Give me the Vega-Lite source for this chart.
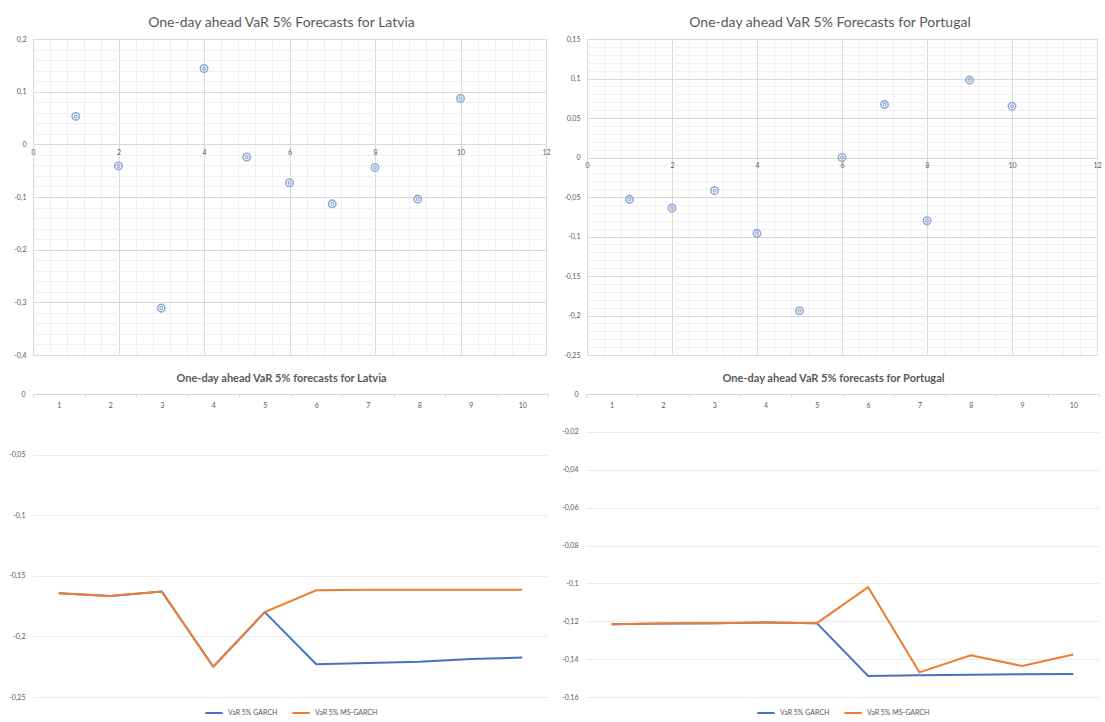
{
  "$schema": "https://vega.github.io/schema/vega-lite/v6.json",
  "background": "white",
  "padding": {"top": 15, "left": 0, "right": 0, "bottom": 0},
  "config": {
    "font": "Lato",
    "view": {"stroke": null},
    "axis": {"labelFont": "Lato", "labelColor": "#595959", "labelFontSize": 7, "title": null},
    "legend": {"labelFont": "Lato", "layout": {"bottom": {"anchor": "middle"}}}
  },
  "datasets": {
    "latviaPts": [
      {"day": 1, "value": 0.053}, {"day": 2, "value": -0.041}, {"day": 3, "value": -0.311},
      {"day": 4, "value": 0.144}, {"day": 5, "value": -0.024}, {"day": 6, "value": -0.073},
      {"day": 7, "value": -0.113}, {"day": 8, "value": -0.044}, {"day": 9, "value": -0.104},
      {"day": 10, "value": 0.087}
    ],
    "portugalPts": [
      {"day": 1, "value": -0.053}, {"day": 2, "value": -0.064}, {"day": 3, "value": -0.042},
      {"day": 4, "value": -0.096}, {"day": 5, "value": -0.194}, {"day": 6, "value": 0.0},
      {"day": 7, "value": 0.067}, {"day": 8, "value": -0.08}, {"day": 9, "value": 0.098},
      {"day": 10, "value": 0.065}
    ],
    "latviaVaR": [
      {"day": 1, "series": "VaR 5% GARCH", "value": -0.1644},
      {"day": 2, "series": "VaR 5% GARCH", "value": -0.1666},
      {"day": 3, "series": "VaR 5% GARCH", "value": -0.163},
      {"day": 4, "series": "VaR 5% GARCH", "value": -0.225},
      {"day": 5, "series": "VaR 5% GARCH", "value": -0.18},
      {"day": 6, "series": "VaR 5% GARCH", "value": -0.223},
      {"day": 7, "series": "VaR 5% GARCH", "value": -0.222},
      {"day": 8, "series": "VaR 5% GARCH", "value": -0.221},
      {"day": 9, "series": "VaR 5% GARCH", "value": -0.2186},
      {"day": 10, "series": "VaR 5% GARCH", "value": -0.2175},
      {"day": 1, "series": "VaR 5% MS-GARCH", "value": -0.1644},
      {"day": 2, "series": "VaR 5% MS-GARCH", "value": -0.1666},
      {"day": 3, "series": "VaR 5% MS-GARCH", "value": -0.163},
      {"day": 4, "series": "VaR 5% MS-GARCH", "value": -0.225},
      {"day": 5, "series": "VaR 5% MS-GARCH", "value": -0.18},
      {"day": 6, "series": "VaR 5% MS-GARCH", "value": -0.162},
      {"day": 7, "series": "VaR 5% MS-GARCH", "value": -0.1616},
      {"day": 8, "series": "VaR 5% MS-GARCH", "value": -0.1616},
      {"day": 9, "series": "VaR 5% MS-GARCH", "value": -0.1616},
      {"day": 10, "series": "VaR 5% MS-GARCH", "value": -0.1616}
    ],
    "portugalVaR": [
      {"day": 1, "series": "VaR 5% GARCH", "value": -0.1216},
      {"day": 2, "series": "VaR 5% GARCH", "value": -0.1212},
      {"day": 3, "series": "VaR 5% GARCH", "value": -0.121},
      {"day": 4, "series": "VaR 5% GARCH", "value": -0.1207},
      {"day": 5, "series": "VaR 5% GARCH", "value": -0.121},
      {"day": 6, "series": "VaR 5% GARCH", "value": -0.1489},
      {"day": 7, "series": "VaR 5% GARCH", "value": -0.1485},
      {"day": 8, "series": "VaR 5% GARCH", "value": -0.1482},
      {"day": 9, "series": "VaR 5% GARCH", "value": -0.148},
      {"day": 10, "series": "VaR 5% GARCH", "value": -0.1478},
      {"day": 1, "series": "VaR 5% MS-GARCH", "value": -0.1216},
      {"day": 2, "series": "VaR 5% MS-GARCH", "value": -0.1212},
      {"day": 3, "series": "VaR 5% MS-GARCH", "value": -0.121},
      {"day": 4, "series": "VaR 5% MS-GARCH", "value": -0.1207},
      {"day": 5, "series": "VaR 5% MS-GARCH", "value": -0.121},
      {"day": 6, "series": "VaR 5% MS-GARCH", "value": -0.102},
      {"day": 7, "series": "VaR 5% MS-GARCH", "value": -0.147},
      {"day": 8, "series": "VaR 5% MS-GARCH", "value": -0.138},
      {"day": 9, "series": "VaR 5% MS-GARCH", "value": -0.1436},
      {"day": 10, "series": "VaR 5% MS-GARCH", "value": -0.1376}
    ]
  },
  "columns": 2,
  "align": "none",
  "spacing": {"row": 14, "column": 6},
  "resolve": {"scale": {"color": "independent"}, "legend": {"color": "independent"}},
  "concat": [
    {
      "title": {"text": "One-day ahead VaR 5% Forecasts for Latvia", "fontSize": 14, "fontWeight": "normal", "color": "#595959", "offset": 5, "dx": -8},
      "width": 513,
      "height": 316,
      "view": {"stroke": "#d9d9d9"},
      "data": {"name": "latviaPts"},
      "encoding": {
        "x": {"field": "day", "type": "quantitative",
          "scale": {"domain": [0, 12], "nice": false, "zero": false},
          "axis": {"orient": "bottom", "offset": -210.67, "domain": false, "ticks": false, "grid": true,
            "values": [0,0.4,0.8,1.2,1.6,2,2.4,2.8,3.2,3.6,4,4.4,4.8,5.2,5.6,6,6.4,6.8,7.2,7.6,8,8.4,8.8,9.2,9.6,10,10.4,10.8,11.2,11.6,12],
            "gridColor": {"condition": {"test": "abs(datum.value/2 - round(datum.value/2)) < 1e-6", "value": "#d9d9d9"}, "value": "#f0f0f0"},
            "labelExpr": "abs(datum.value/2 - round(datum.value/2)) < 1e-6 ? toString(datum.value) : ''",
            "labelOverlap": false, "labelFlush": false, "labelPadding": 4}},
        "y": {"field": "value", "type": "quantitative",
          "scale": {"domain": [-0.4, 0.2], "nice": false, "zero": false},
          "axis": {"domain": false, "ticks": false, "grid": true,
            "values": [-0.4,-0.38,-0.36,-0.34,-0.32,-0.3,-0.28,-0.26,-0.24,-0.22,-0.2,-0.18,-0.16,-0.14,-0.12,-0.1,-0.08,-0.06,-0.04,-0.02,0,0.02,0.04,0.06,0.08,0.1,0.12,0.14,0.16,0.18,0.2],
            "gridColor": {"condition": {"test": "abs(datum.value*10 - round(datum.value*10)) < 1e-6", "value": "#d9d9d9"}, "value": "#f0f0f0"},
            "labelExpr": "abs(datum.value*10 - round(datum.value*10)) < 1e-6 ? replace(toString(datum.value), '.', ',') : ''",
            "labelOverlap": false, "labelPadding": 7, "minExtent": 25, "maxExtent": 25}}
      },
      "layer": [
        {"mark": {"type": "point", "shape": "circle", "size": 55, "filled": false, "stroke": "#93a9d3", "strokeWidth": 1.6, "opacity": 1}},
        {"mark": {"type": "point", "shape": "circle", "size": 8, "filled": false, "stroke": "#93a9d3", "strokeWidth": 1.2, "opacity": 1}}
      ]
    },
    {
      "title": {"text": "One-day ahead VaR 5% Forecasts for Portugal", "fontSize": 14, "fontWeight": "normal", "color": "#595959", "offset": 5, "dx": -12},
      "width": 510,
      "height": 316,
      "view": {"stroke": "#d9d9d9"},
      "data": {"name": "portugalPts"},
      "encoding": {
        "x": {"field": "day", "type": "quantitative",
          "scale": {"domain": [0, 12], "nice": false, "zero": false},
          "axis": {"orient": "bottom", "offset": -197.5, "domain": false, "ticks": false, "grid": true,
            "values": [0,0.4,0.8,1.2,1.6,2,2.4,2.8,3.2,3.6,4,4.4,4.8,5.2,5.6,6,6.4,6.8,7.2,7.6,8,8.4,8.8,9.2,9.6,10,10.4,10.8,11.2,11.6,12],
            "gridColor": {"condition": {"test": "abs(datum.value/2 - round(datum.value/2)) < 1e-6", "value": "#d9d9d9"}, "value": "#f0f0f0"},
            "labelExpr": "abs(datum.value/2 - round(datum.value/2)) < 1e-6 ? toString(datum.value) : ''",
            "labelOverlap": false, "labelFlush": false, "labelPadding": 4}},
        "y": {"field": "value", "type": "quantitative",
          "scale": {"domain": [-0.25, 0.15], "nice": false, "zero": false},
          "axis": {"domain": false, "ticks": false, "grid": true,
            "values": [-0.25,-0.24,-0.23,-0.22,-0.21,-0.2,-0.19,-0.18,-0.17,-0.16,-0.15,-0.14,-0.13,-0.12,-0.11,-0.1,-0.09,-0.08,-0.07,-0.06,-0.05,-0.04,-0.03,-0.02,-0.01,0,0.01,0.02,0.03,0.04,0.05,0.06,0.07,0.08,0.09,0.1,0.11,0.12,0.13,0.14,0.15],
            "gridColor": {"condition": {"test": "abs(datum.value*20 - round(datum.value*20)) < 1e-6", "value": "#d9d9d9"}, "value": "#f0f0f0"},
            "labelExpr": "abs(datum.value*20 - round(datum.value*20)) < 1e-6 ? replace(toString(datum.value), '.', ',') : ''",
            "labelOverlap": false, "labelPadding": 7, "minExtent": 29, "maxExtent": 29}}
      },
      "layer": [
        {"mark": {"type": "point", "shape": "circle", "size": 55, "filled": false, "stroke": "#93a9d3", "strokeWidth": 1.6, "opacity": 1}},
        {"mark": {"type": "point", "shape": "circle", "size": 8, "filled": false, "stroke": "#93a9d3", "strokeWidth": 1.2, "opacity": 1}}
      ]
    },
    {
      "title": {"text": "One-day ahead VaR 5% forecasts for Latvia", "fontSize": 11, "fontWeight": "bold", "color": "#595959", "offset": 6, "dx": -9},
      "width": 515,
      "height": 303,
      "data": {"name": "latviaVaR"},
      "mark": {"type": "line", "strokeWidth": 2},
      "encoding": {
        "x": {"field": "day", "type": "ordinal",
          "scale": {"type": "band", "paddingInner": 0, "paddingOuter": 0},
          "bandPosition": 0.5,
          "axis": {"orient": "bottom", "offset": -303, "labelAngle": 0, "domainColor": "#d9d9d9", "tickColor": "#d9d9d9", "tickBand": "extent", "tickSize": 3, "labelPadding": 4, "grid": false}},
        "y": {"field": "value", "type": "quantitative",
          "scale": {"domain": [-0.25, 0], "nice": false, "zero": false},
          "axis": {"values": [-0.25,-0.2,-0.15,-0.1,-0.05,0], "labelExpr": "replace(toString(datum.value), '.', ',')", "domain": false, "ticks": false, "grid": true, "gridColor": "#ebebeb", "labelPadding": 8, "minExtent": 33, "maxExtent": 33}},
        "color": {"field": "series", "type": "nominal",
          "scale": {"domain": ["VaR 5% GARCH", "VaR 5% MS-GARCH"], "range": ["#4472c4", "#ed7d31"]},
          "legend": {"orient": "bottom", "direction": "horizontal", "title": null, "symbolType": "stroke", "symbolStrokeWidth": 2, "symbolSize": 300, "labelFontSize": 7, "labelColor": "#595959", "offset": 6, "columnPadding": 10}}
      }
    },
    {
      "title": {"text": "One-day ahead VaR 5% forecasts for Portugal", "fontSize": 11, "fontWeight": "bold", "color": "#595959", "offset": 6, "dx": -9},
      "width": 513,
      "height": 303,
      "data": {"name": "portugalVaR"},
      "mark": {"type": "line", "strokeWidth": 2},
      "encoding": {
        "x": {"field": "day", "type": "ordinal",
          "scale": {"type": "band", "paddingInner": 0, "paddingOuter": 0},
          "bandPosition": 0.5,
          "axis": {"orient": "bottom", "offset": -303, "labelAngle": 0, "domainColor": "#d9d9d9", "tickColor": "#d9d9d9", "tickBand": "extent", "tickSize": 3, "labelPadding": 4, "grid": false}},
        "y": {"field": "value", "type": "quantitative",
          "scale": {"domain": [-0.16, 0], "nice": false, "zero": false},
          "axis": {"values": [-0.16,-0.14,-0.12,-0.1,-0.08,-0.06,-0.04,-0.02,0], "labelExpr": "replace(toString(datum.value), '.', ',')", "domain": false, "ticks": false, "grid": true, "gridColor": "#ebebeb", "labelPadding": 8, "minExtent": 29, "maxExtent": 29}},
        "color": {"field": "series", "type": "nominal",
          "scale": {"domain": ["VaR 5% GARCH", "VaR 5% MS-GARCH"], "range": ["#4472c4", "#ed7d31"]},
          "legend": {"orient": "bottom", "direction": "horizontal", "title": null, "symbolType": "stroke", "symbolStrokeWidth": 2, "symbolSize": 300, "labelFontSize": 7, "labelColor": "#595959", "offset": 6, "columnPadding": 10}}
      }
    }
  ]
}
